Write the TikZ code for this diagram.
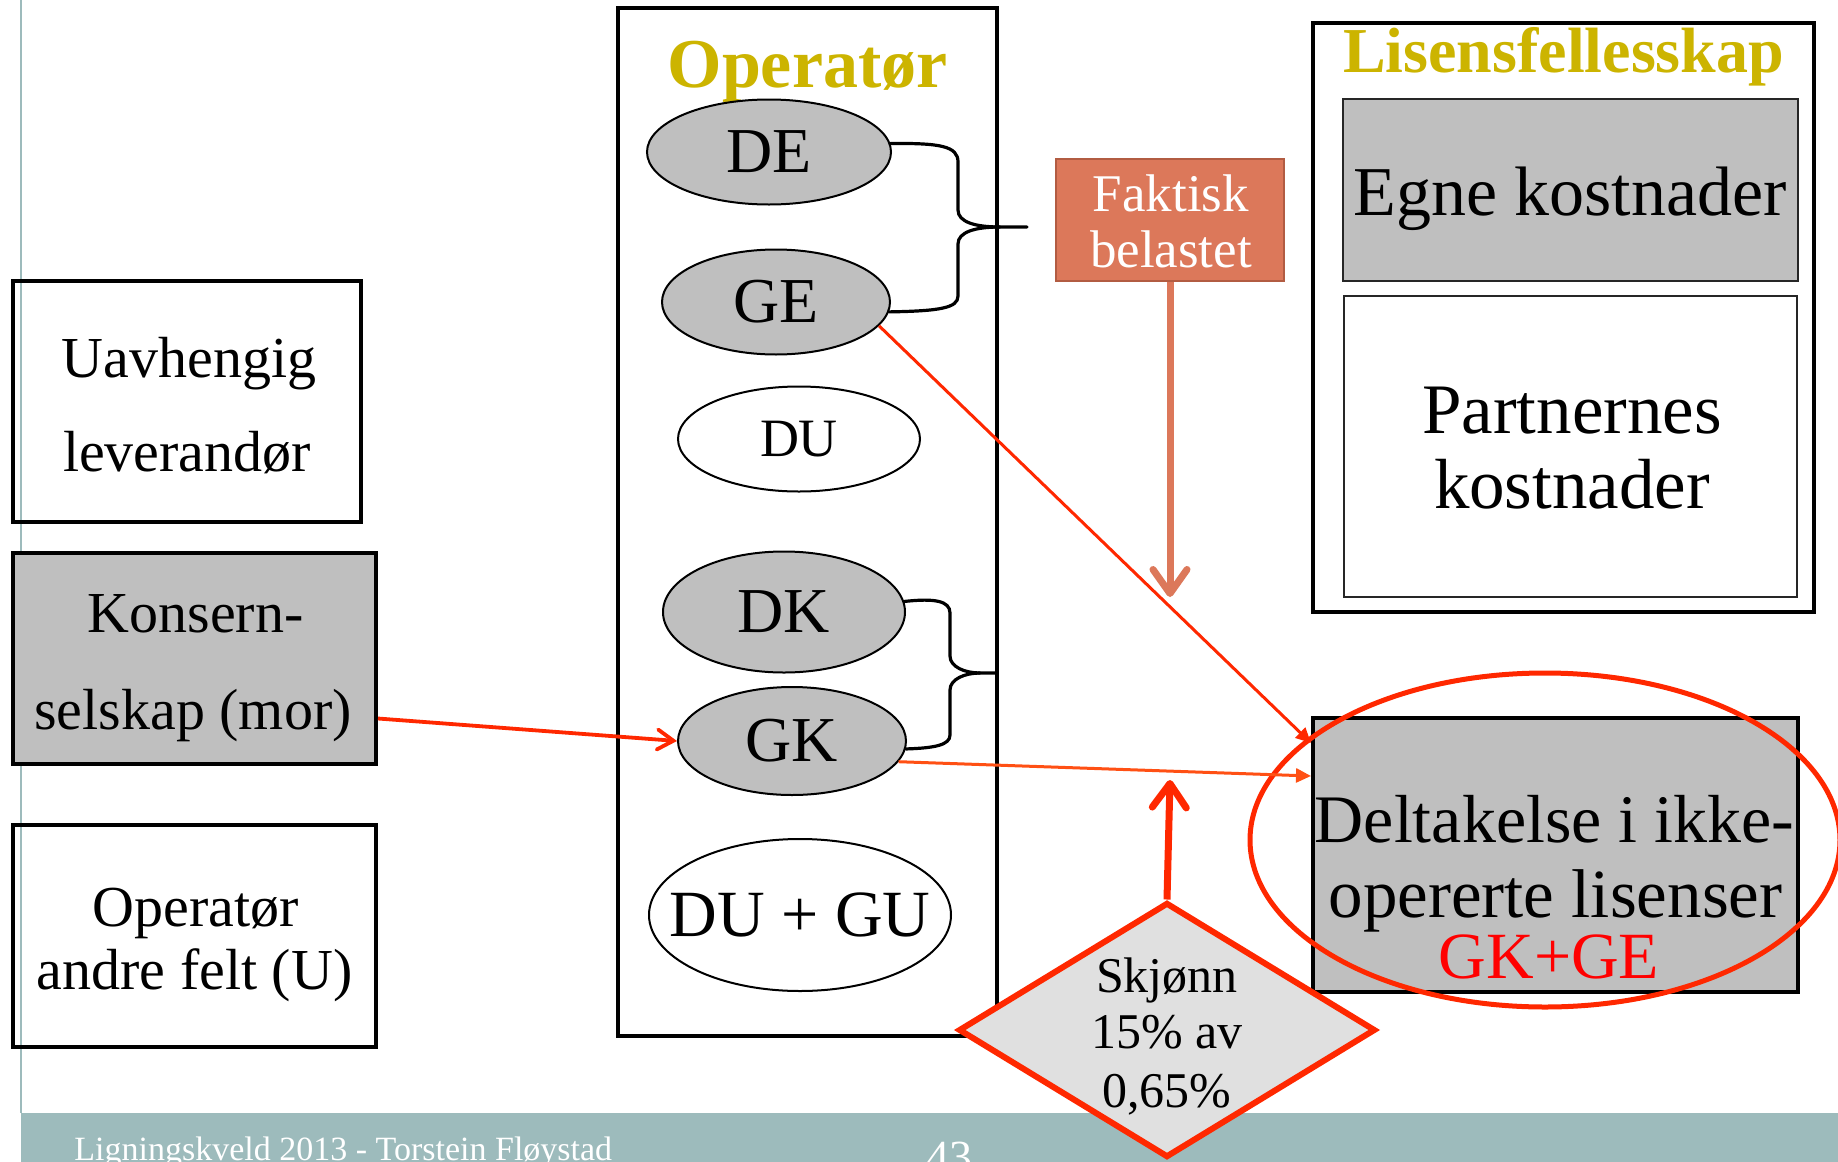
\documentclass[tikz,border=0pt]{standalone}
\usepackage{fontspec}
\setmainfont{Liberation Serif}
\usetikzlibrary{shapes.geometric,arrows.meta,calc}
\definecolor{gold}{RGB}{204,180,0}
\definecolor{fakt}{RGB}{220,120,90}
\definecolor{faktb}{RGB}{178,92,66}
\definecolor{redl}{RGB}{255,40,0}
\definecolor{orl}{RGB}{255,80,20}
\definecolor{band}{RGB}{157,187,188}
\definecolor{greyf}{RGB}{191,191,191}
\definecolor{diaf}{RGB}{224,224,224}
\begin{document}
\begin{tikzpicture}[x=0.5pt,y=-0.5pt,
  box/.style={rectangle,draw,line width=2pt,inner sep=0pt},
  thinbox/.style={rectangle,draw=black!85,line width=1pt,inner sep=0pt},
  ell/.style={ellipse,draw,line width=1pt,inner sep=0pt},
  txt/.style={inner sep=0pt,anchor=base},
  brace/.style={draw,line width=1.6pt,line cap=round},
  redarrow/.style={draw=redl,line width=1.9pt,-{Straight Barb[length=8pt,width=10pt,line cap=round]}},
  tri/.style={line width=1.5pt,-{Triangle[length=7.5pt,width=7pt]}},
  thickarrow/.style={line width=3.5pt,-{Straight Barb[length=12pt,width=17pt,line cap=round,line join=round]}}]
\useasboundingbox (0,0) rectangle (1838,1162);
\fill[white] (0,0) rectangle (1838,1162);
% footer
\fill[band] (21,1113) rectangle (1838,1162);
\draw[band,line width=1.2pt] (21,0) -- (21,1113);
\node[txt,anchor=base west,white,font=\fontsize{17}{20}\selectfont] (foot) at (74,1160) {Ligningskveld 2013 - Torstein Fløystad};
\node[txt,anchor=base west,white,font=\fontsize{23}{26}\selectfont] (pnum) at (926,1172) {43};

% left boxes
\node[box,minimum width=174pt,minimum height=120.5pt] (uav) at (187,401.5) {};
\node[txt,font=\fontsize{29}{34}\selectfont] (uav1) at (189,377) {Uavhengig};
\node[txt,font=\fontsize{29}{34}\selectfont] (uav2) at (187,471) {leverandør};
\node[box,fill=greyf,minimum width=181.5pt,minimum height=105.5pt] (kon) at (194.5,658.5) {};
\node[txt,font=\fontsize{29}{34}\selectfont] (kon1) at (195.5,632) {Konsern-};
\node[txt,font=\fontsize{29}{34}\selectfont] (kon2) at (193,729) {selskap (mor)};
\node[box,minimum width=181.5pt,minimum height=111pt] (opa) at (194.5,936) {};
\node[txt,font=\fontsize{29}{34}\selectfont] (opa1) at (196,926) {Operatør};
\node[txt,font=\fontsize{29}{34}\selectfont] (opa2) at (194.5,989) {andre felt (U)};

% operator box
\node[box,minimum width=189.5pt,minimum height=514pt] (op) at (807.5,522) {};
\node[txt,text=gold,font=\fontsize{35}{40}\selectfont\bfseries] (optitle) at (807.5,87) {Operatør};
\node[ell,fill=greyf,minimum width=122pt,minimum height=52.5pt,font=\fontsize{32}{36}\selectfont] (DE) at (769,152) {DE};
\node[ell,fill=greyf,minimum width=114pt,minimum height=52.5pt,font=\fontsize{32}{36}\selectfont] (GE) at (776,302) {GE};
\node[ell,fill=white,minimum width=121pt,minimum height=52.5pt,font=\fontsize{27}{30}\selectfont] (DU) at (799,439) {DU};
\node[ell,fill=greyf,minimum width=121pt,minimum height=60.5pt,font=\fontsize{32}{36}\selectfont] (DK) at (784,612) {DK};
\node[ell,fill=greyf,minimum width=114pt,minimum height=54pt,font=\fontsize{32}{36}\selectfont] (GK) at (792,741) {GK};
\node[ell,fill=white,minimum width=151pt,minimum height=76pt,font=\fontsize{33}{36}\selectfont] (DUGU) at (800,915) {\makebox[0pt]{DU + GU}};

% braces
\coordinate (b1tip) at (1027,227);
\coordinate (b1mid) at (1000,227);
\draw[brace] (DE.4) .. controls (940,143) and (958,146) .. (958,162) -- (958,210) .. controls (958,222) and (975,227) .. (b1mid) -- (b1tip);
\draw[brace] (b1mid) .. controls (975,227) and (958,232) .. (958,244) -- (958,296) .. controls (958,308) and (940,311) .. (GE.-5);
\coordinate (b2tip) at (995,673);
\coordinate (b2mid) at (980,673);
\draw[brace] (DK.5) .. controls (935,598) and (950,601) .. (950,613) -- (950,656) .. controls (950,667) and (965,673) .. (b2mid) -- (b2tip);
\draw[brace] (b2mid) .. controls (965,673) and (950,679) .. (950,690) -- (950,735) .. controls (950,745) and (935,748) .. (GK.-4);

% Faktisk belastet
\node[rectangle,fill=fakt,draw=faktb,line width=1pt,minimum width=114pt,minimum height=61pt,inner sep=0pt] (fak) at (1170,220) {};
\node[txt,white,font=\fontsize{26.5}{30}\selectfont] (fak1) at (1171,211) {Faktisk};
\node[txt,white,font=\fontsize{26.5}{30}\selectfont] (fak2) at (1171,267) {belastet};
\coordinate (ftip) at (1170,597);
\draw[thickarrow,fakt] (fak.south) -- (ftip);

% Lisensfellesskap
\node[box,minimum width=250.5pt,minimum height=294.5pt] (lis) at (1563.5,317.5) {};
\node[txt,text=gold,font=\fontsize{32}{36}\selectfont\bfseries] (listitle) at (1563.5,72) {Lisensfellesskap};
\node[thinbox,fill=greyf,minimum width=227.5pt,minimum height=91pt] (egne) at (1570.5,190) {};
\node[txt,font=\fontsize{35}{40}\selectfont] (egnet) at (1570,215) {Egne kostnader};
\node[thinbox,fill=white,minimum width=226.5pt,minimum height=150.5pt] (part) at (1570.5,446.5) {};
\node[txt,font=\fontsize{35.5}{40}\selectfont] (part1) at (1572,433) {Partnernes};
\node[txt,font=\fontsize{35.5}{40}\selectfont] (part2) at (1572,508) {kostnader};

% Deltakelse
\node[box,fill=greyf,minimum width=242.5pt,minimum height=137pt] (delt) at (1555.5,855) {};
\node[txt,font=\fontsize{34}{38}\selectfont] (delt1) at (1554.5,842) {Deltakelse i ikke-};
\node[txt,font=\fontsize{34.5}{38}\selectfont] (delt2) at (1555.5,917) {opererte lisenser};
\node[txt,text=red,font=\fontsize{33}{36}\selectfont] (delt3) at (1549,978) {GK+GE};
\node[ellipse,draw=redl,line width=2.5pt,minimum width=295pt,minimum height=167pt,inner sep=0pt] (ring) at (1545,840) {};

% red connectors
\draw[redarrow] ($(kon.east)+(0,60)$) -- (GK.west);
\draw[tri,redl] (GE.-13) -- ($(delt.north west)+(0,27)$);
\draw[tri,orl] (GK.-11) -- ($(delt.north west)+(0,60)$);

% Skjonn diamond
\node[diamond,fill=diaf,draw=redl,line width=3pt,minimum width=208.5pt,minimum height=127.5pt,inner sep=0pt] (dia) at (1167,1030) {};
\node[txt,font=\fontsize{25}{29}\selectfont] (dia1) at (1167,992) {Skjønn};
\node[txt,font=\fontsize{25}{29}\selectfont] (dia2) at (1167,1048) {15\% av};
\node[txt,font=\fontsize{25}{29}\selectfont] (dia3) at (1167,1107) {0,65\%};
\coordinate (dtip) at (1170,780);
\draw[thickarrow,redl] (dia.north) -- (dtip);
\end{tikzpicture}
\end{document}
